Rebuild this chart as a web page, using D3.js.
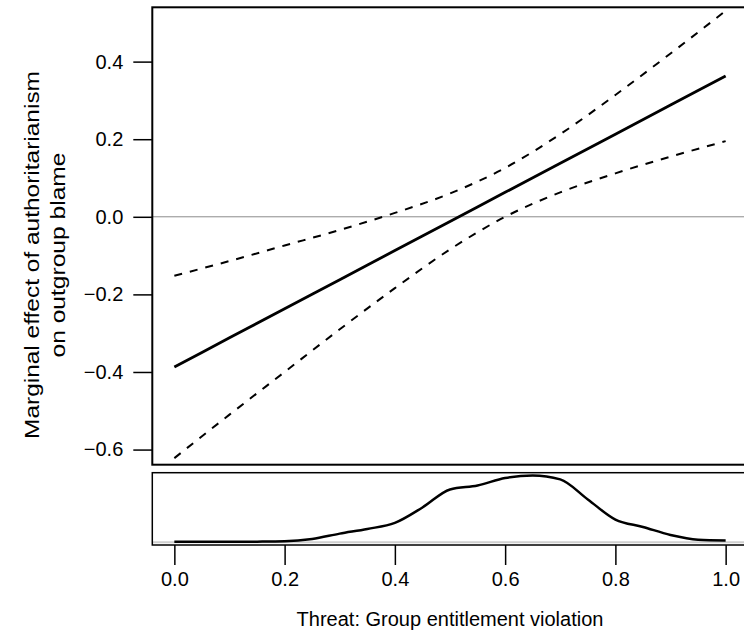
<!DOCTYPE html>
<html>
<head>
<meta charset="utf-8">
<script src="https://cdn.jsdelivr.net/npm/d3@7"></script>
<style>
  body { margin: 0; background: #fff; }
  text { font-family: "Liberation Sans", Arial, sans-serif; }
</style>
</head>
<body>
<div id="chart-area"></div>
<script>
// values
const xGrid = [0, 0.1, 0.2, 0.3, 0.4, 0.5, 0.6, 0.7, 0.8, 0.9, 1.0];
const estimate = [-0.387, -0.312, -0.237, -0.162, -0.087, -0.012, 0.063, 0.138, 0.213, 0.288, 0.363];
const upper = [-0.152, -0.114, -0.074, -0.034, 0.010, 0.060, 0.126, 0.213, 0.314, 0.421, 0.531];
const lower = [-0.622, -0.510, -0.400, -0.290, -0.184, -0.084, 0.000, 0.063, 0.112, 0.155, 0.195];

const densX = [0, 0.05, 0.1, 0.15, 0.2, 0.25, 0.3, 0.35, 0.4, 0.45, 0.5, 0.55, 0.6, 0.65, 0.7, 0.75, 0.8, 0.85, 0.9, 0.95, 1.0];
const densY = [0.010, 0.008, 0.008, 0.010, 0.015, 0.050, 0.130, 0.200, 0.290, 0.520, 0.790, 0.850, 0.960, 1.000, 0.940, 0.640, 0.340, 0.230, 0.110, 0.040, 0.029];

const xTicks = [0, 0.2, 0.4, 0.6, 0.8, 1.0];
const yTicks = [-0.6, -0.4, -0.2, 0.0, 0.2, 0.4];

const svg = d3.select("#chart-area")
    .append("svg")
        .attr("width", 744)
        .attr("height", 637);

const x = d3.scaleLinear().domain([-0.04, 1.04]).range([152.3, 747.7]);
const y = d3.scaleLinear().domain([-0.639, 0.540]).range([464.7, 7.3]);
const dMax = d3.max(densY);
const yd = d3.scaleLinear().domain([-0.04 * dMax, 1.04 * dMax]).range([545, 472.7]);

const fmt = d3.format(".1f");

// main panel
svg.append("line")
    .attr("x1", x.range()[0]).attr("x2", x.range()[1])
    .attr("y1", y(0)).attr("y2", y(0))
    .attr("stroke", "#8c8c8c").attr("stroke-width", 1);

const line = d3.line()
    .x((d) => x(d[0]))
    .y((d) => y(d[1]))
    .curve(d3.curveMonotoneX);

svg.append("path")
    .datum(xGrid.map((v, i) => [v, estimate[i]]))
    .attr("d", line)
    .attr("fill", "none").attr("stroke", "#000").attr("stroke-width", 2.8);

[upper, lower].forEach((band) => {
    svg.append("path")
        .datum(xGrid.map((v, i) => [v, band[i]]))
        .attr("d", line)
        .attr("fill", "none").attr("stroke", "#000")
        .attr("stroke-width", 2).attr("stroke-dasharray", "8,8");
});

svg.append("rect")
    .attr("x", x.range()[0]).attr("y", y.range()[1])
    .attr("width", x.range()[1] - x.range()[0])
    .attr("height", y.range()[0] - y.range()[1])
    .attr("fill", "none").attr("stroke", "#000").attr("stroke-width", 2);

const yAxis = svg.append("g")
    .attr("transform", `translate(${x.range()[0]},0)`)
    .call(d3.axisLeft(y).tickValues(yTicks).tickSize(19).tickPadding(10).tickFormat(fmt));
yAxis.select(".domain").remove();
yAxis.selectAll("line").attr("stroke-width", 1.5);
yAxis.selectAll("text").attr("font-size", 20).attr("fill", "#000")
    .attr("font-family", "'Liberation Sans', Arial, sans-serif");

// density panel
svg.append("line")
    .attr("x1", x.range()[0]).attr("x2", x.range()[1])
    .attr("y1", yd(0)).attr("y2", yd(0))
    .attr("stroke", "#cfcfcf").attr("stroke-width", 2);

svg.append("path")
    .datum(densX.map((v, i) => [v, densY[i]]))
    .attr("d", d3.line().x((d) => x(d[0])).y((d) => yd(d[1])).curve(d3.curveMonotoneX))
    .attr("fill", "none").attr("stroke", "#000").attr("stroke-width", 2.5);

svg.append("rect")
    .attr("x", x.range()[0]).attr("y", yd.range()[1])
    .attr("width", x.range()[1] - x.range()[0])
    .attr("height", yd.range()[0] - yd.range()[1])
    .attr("fill", "none").attr("stroke", "#000").attr("stroke-width", 1.5);

const xAxis = svg.append("g")
    .attr("transform", `translate(0,${yd.range()[0]})`)
    .call(d3.axisBottom(x).tickValues(xTicks).tickSize(20).tickPadding(7).tickFormat(fmt));
xAxis.select(".domain").remove();
xAxis.selectAll("line").attr("stroke-width", 1.5);
xAxis.selectAll("text").attr("font-size", 20).attr("fill", "#000")
    .attr("font-family", "'Liberation Sans', Arial, sans-serif");

// axis titles
svg.append("text")
    .attr("x", x(0.5)).attr("y", 626)
    .attr("text-anchor", "middle").attr("font-size", 20)
    .text("Threat: Group entitlement violation");

const yTitle = svg.append("text")
    .attr("transform", "translate(32,255) rotate(-90)")
    .attr("text-anchor", "middle").attr("font-size", 21);
yTitle.append("tspan").attr("x", 0).attr("dy", "0.35em")
    .attr("textLength", 368).attr("lengthAdjust", "spacingAndGlyphs")
    .text("Marginal effect of authoritarianism");
yTitle.append("tspan").attr("x", 0).attr("dy", "1.2em")
    .attr("textLength", 205).attr("lengthAdjust", "spacingAndGlyphs")
    .text("on outgroup blame");
</script>
</body>
</html>
